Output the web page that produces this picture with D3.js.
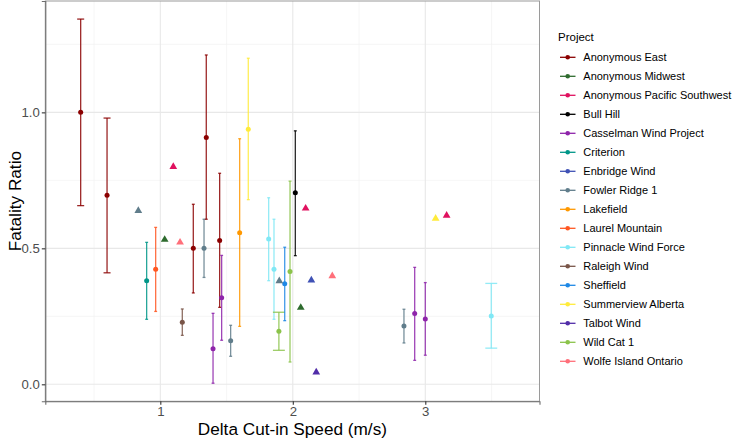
<!DOCTYPE html>
<html><head><meta charset="utf-8">
<script src="https://cdn.jsdelivr.net/npm/d3@7"></script>
<style>body{margin:0;background:#fff}svg{display:block;font-family:"Liberation Sans",Arial,sans-serif}</style>
</head><body><svg id="c" width="733" height="441"></svg>
<script>
const projects = ["Anonymous East","Anonymous Midwest","Anonymous Pacific Southwest","Bull Hill","Casselman Wind Project","Criterion","Enbridge Wind","Fowler Ridge 1","Lakefield","Laurel Mountain","Pinnacle Wind Force","Raleigh Wind","Sheffield","Summerview Alberta","Talbot Wind","Wild Cat 1","Wolfe Island Ontario"];
const projectColors = ["#8B0000","#2E6B2E","#E0115F","#000000","#8E24AA","#009688","#3F51B5","#607D8B","#FF9800","#FF5722","#80E8F5","#795548","#1E88E5","#FFEB3B","#512DA8","#8BC34A","#FF6F7A"];

// error-bar observations
const barProject = ["Anonymous East","Anonymous East","Criterion","Laurel Mountain","Raleigh Wind","Anonymous East","Fowler Ridge 1","Anonymous East","Casselman Wind Project","Anonymous East","Casselman Wind Project","Fowler Ridge 1","Lakefield","Summerview Alberta","Pinnacle Wind Force","Pinnacle Wind Force","Wild Cat 1","Sheffield","Wild Cat 1","Bull Hill","Fowler Ridge 1","Casselman Wind Project","Casselman Wind Project","Pinnacle Wind Force"];
const barX  = [0.399,0.598,0.897,0.965,1.166,1.249,1.330,1.347,1.398,1.448,1.463,1.531,1.599,1.664,1.818,1.858,1.895,1.939,1.979,2.019,2.839,2.920,3.000,3.498];
const barY  = [1.000,0.695,0.381,0.423,0.228,0.500,0.500,0.908,0.131,0.529,0.318,0.160,0.557,0.9375,0.534,0.423,0.195,0.370,0.415,0.704,0.214,0.260,0.240,0.251];
const barLo = [0.657,0.410,0.239,0.268,0.180,0.336,0.393,0.607,0.004,0.283,0.162,0.103,0.213,0.679,0.381,0.239,0.125,0.234,0.082,0.473,0.152,0.088,0.107,0.133];
const barHi = [1.343,0.979,0.522,0.577,0.277,0.662,0.607,1.211,0.261,0.776,0.474,0.217,0.903,1.199,0.686,0.607,0.265,0.504,0.747,0.932,0.276,0.430,0.374,0.371];
// error-bar width in m/s (x-data units)
const barCapWidth = [0.053,0.053,0.022,0.022,0.022,0.022,0.022,0.022,0.022,0.022,0.022,0.022,0.022,0.022,0.022,0.022,0.09,0.022,0.022,0.022,0.022,0.022,0.022,0.09];

// point-only observations (triangles)
const triProject = ["Fowler Ridge 1","Anonymous Midwest","Anonymous Pacific Southwest","Wolfe Island Ontario","Fowler Ridge 1","Anonymous Midwest","Anonymous Pacific Southwest","Enbridge Wind","Talbot Wind","Wolfe Island Ontario","Summerview Alberta","Anonymous Pacific Southwest"];
const triX = [0.834,1.033,1.098,1.149,1.898,2.060,2.097,2.140,2.177,2.298,3.078,3.161];
const triY = [0.638,0.532,0.800,0.522,0.380,0.282,0.647,0.383,0.044,0.398,0.610,0.621];

const xTicks = [1,2,3];
const yTicks = [0,0.5,1.0];
const xMinor = [0.5,1.5,2.5,3.5];
const yMinor = [0.25,0.75,1.25];

const svg = d3.select("#c");
const P = {l:45.3, r:539.5, t:1, b:401.3};
const x = d3.scaleLinear().domain([0.132,3.862]).range([P.l,P.r]);
const y = d3.scaleLinear().domain([-0.0625,1.4095]).range([P.b,P.t]);
const color = d3.scaleOrdinal().domain(projects).range(projectColors);

const g = svg.append("g");
// grid
g.selectAll(".gxm").data(xMinor).join("line").attr("x1",d=>x(d)).attr("x2",d=>x(d)).attr("y1",P.t).attr("y2",P.b).attr("stroke","#F2F2F2").attr("stroke-width",0.7);
g.selectAll(".gym").data(yMinor).join("line").attr("y1",d=>y(d)).attr("y2",d=>y(d)).attr("x1",P.l).attr("x2",P.r).attr("stroke","#F2F2F2").attr("stroke-width",0.7);
g.selectAll(".gx").data(xTicks).join("line").attr("x1",d=>x(d)).attr("x2",d=>x(d)).attr("y1",P.t).attr("y2",P.b).attr("stroke","#E8E8E8").attr("stroke-width",1.1);
g.selectAll(".gy").data(yTicks).join("line").attr("y1",d=>y(d)).attr("y2",d=>y(d)).attr("x1",P.l).attr("x2",P.r).attr("stroke","#E8E8E8").attr("stroke-width",1.1);

// border
g.append("rect").attr("x",P.l).attr("y",P.t).attr("width",P.r-P.l).attr("height",P.b-P.t).attr("fill","none").attr("stroke","#9A9A9A").attr("stroke-width",1);

// axes
const xAxis = d3.axisBottom(x).tickValues(xTicks).tickFormat(d3.format("d")).tickSize(3.5).tickPadding(2);
const yAxis = d3.axisLeft(y).tickValues(yTicks).tickFormat(d3.format(".1f")).tickSize(3.5).tickPadding(2);
const gx = svg.append("g").attr("transform",`translate(0,${P.b})`).call(xAxis);
const gy = svg.append("g").attr("transform",`translate(${P.l},0)`).call(yAxis);
[gx,gy].forEach(a=>{
  a.select(".domain").attr("stroke","#6E6E6E").attr("stroke-width",1.1);
  a.selectAll(".tick line").attr("stroke","#333").attr("stroke-width",1.1);
  a.selectAll(".tick text").attr("fill","#4D4D4D").attr("font-size",13.2).attr("font-family","Liberation Sans, Arial, sans-serif");
});

// error bars
const bars = barX.map((d,i)=>({p:barProject[i],x:d,y:barY[i],lo:barLo[i],hi:barHi[i],w:barCapWidth[i]}));
const bg = svg.append("g");
bars.forEach(b=>{
  const c = color(b.p);
  const gg = bg.append("g").attr("stroke",c).attr("stroke-width",1.3).attr("stroke-opacity",0.85);
  gg.append("line").attr("x1",x(b.x)).attr("x2",x(b.x)).attr("y1",y(b.lo)).attr("y2",y(b.hi));
  gg.append("line").attr("x1",x(b.x-b.w/2)).attr("x2",x(b.x+b.w/2)).attr("y1",y(b.lo)).attr("y2",y(b.lo));
  gg.append("line").attr("x1",x(b.x-b.w/2)).attr("x2",x(b.x+b.w/2)).attr("y1",y(b.hi)).attr("y2",y(b.hi));
});
bg.selectAll("circle").data(bars).join("circle").attr("cx",d=>x(d.x)).attr("cy",d=>y(d.y)).attr("r",2.5).attr("fill",d=>color(d.p));

// triangles
const tris = triX.map((d,i)=>({p:triProject[i],x:d,y:triY[i]}));
svg.append("g").selectAll("path").data(tris).join("path")
  .attr("d",d3.symbol().type(d3.symbolTriangle).size(26))
  .attr("transform",d=>`translate(${x(d.x)},${y(d.y)})`)
  .attr("fill",d=>color(d.p));

// axis titles
svg.append("text").attr("x",(P.l+P.r)/2).attr("y",435).attr("text-anchor","middle").attr("font-size",17.2).attr("fill","#000").text("Delta Cut-in Speed (m/s)");
svg.append("text").attr("transform",`translate(21,${(P.t+P.b)/2}) rotate(-90)`).attr("text-anchor","middle").attr("font-size",17.2).attr("fill","#000").text("Fatality Ratio");

// legend
const lg = svg.append("g").attr("transform","translate(558,0)");
lg.append("text").attr("x",0).attr("y",41).attr("font-size",11.5).attr("fill","#000").text("Project");
const items = lg.selectAll(".it").data(projects).join("g").attr("transform",(d,i)=>`translate(0,${57.3+i*19})`);
items.append("line").attr("x1",2).attr("x2",17.5).attr("y1",0).attr("y2",0).attr("stroke",d=>color(d)).attr("stroke-width",1.3);
items.append("circle").attr("cx",9.7).attr("cy",0).attr("r",2.3).attr("fill",d=>color(d));
items.append("text").attr("x",25.3).attr("y",4).attr("font-size",11).attr("fill","#000").text(d=>d);
</script></body></html>
